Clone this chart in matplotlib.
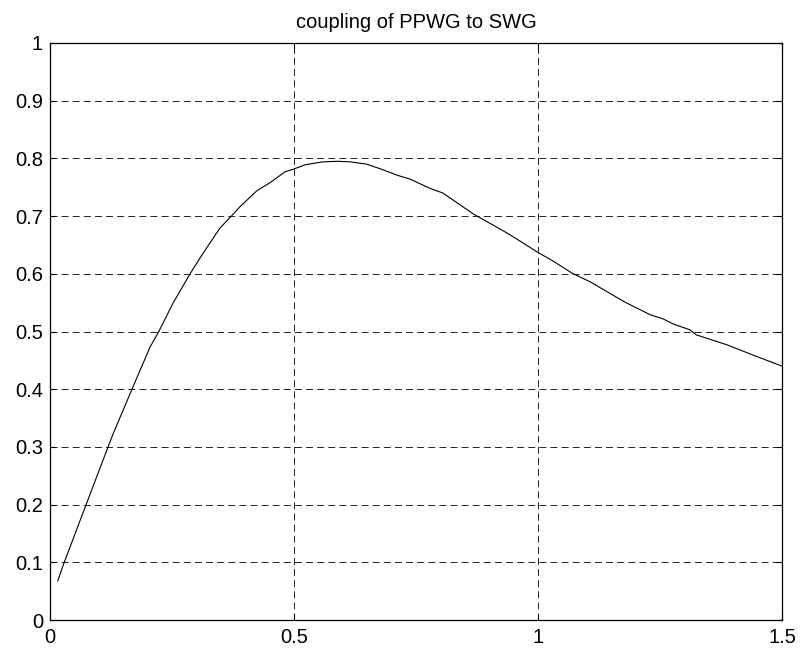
import matplotlib
matplotlib.use("Agg")
import matplotlib.pyplot as plt
import numpy as np

# coupling efficiency vs normalised frequency
freq = [0.016, 0.027, 0.074, 0.119, 0.130, 0.147, 0.168, 0.205, 0.223, 0.252,
        0.287, 0.314, 0.348, 0.375, 0.389, 0.424, 0.451, 0.482, 0.498, 0.523,
        0.559, 0.590, 0.615, 0.649, 0.680, 0.711, 0.738, 0.779, 0.805, 0.867,
        0.936, 0.957, 0.998, 1.031, 1.070, 1.107, 1.178, 1.230, 1.256, 1.277,
        1.311, 1.325, 1.387, 1.441, 1.500]
coupling = [0.068, 0.095, 0.200, 0.300, 0.324, 0.358, 0.400, 0.473, 0.500, 0.549,
            0.600, 0.636, 0.679, 0.703, 0.716, 0.744, 0.758, 0.777, 0.781, 0.789,
            0.794, 0.795, 0.794, 0.790, 0.781, 0.771, 0.764, 0.748, 0.740, 0.704,
            0.671, 0.660, 0.638, 0.622, 0.601, 0.586, 0.551, 0.529, 0.522, 0.513,
            0.503, 0.494, 0.477, 0.459, 0.440]

xticks = [0, 0.5, 1, 1.5]
xticklabels = ["0", "0.5", "1", "1.5"]
yticks = [0, 0.1, 0.2, 0.3, 0.4, 0.5, 0.6, 0.7, 0.8, 0.9, 1]
yticklabels = ["0", "0.1", "0.2", "0.3", "0.4", "0.5", "0.6", "0.7", "0.8", "0.9", "1"]

plt.rcParams['font.family'] = ['Liberation Sans', 'DejaVu Sans']
plt.rcParams['lines.scale_dashes'] = False

fig = plt.figure(figsize=(8.01, 6.52), dpi=100)
ax = fig.add_axes([50 / 801, 32 / 652, 732 / 801, 577 / 652])

ax.plot(freq, coupling, color='black', linewidth=0.8)

ax.set_xlim(0, 1.5)
ax.set_ylim(0, 1)
ax.set_xticks(xticks)
ax.set_xticklabels(xticklabels)
ax.set_yticks(yticks)
ax.set_yticklabels(yticklabels)

ax.tick_params(direction='in', length=4, width=0.8, top=True, right=True,
               labelsize=14.5, colors='black')
ax.tick_params(axis='x', pad=6)
ax.tick_params(axis='y', pad=5)
ax.grid(True, color='black', linestyle=(0, (5, 3)), linewidth=0.6)
for s in ax.spines.values():
    s.set_linewidth(0.9)

ax.set_title("coupling of PPWG to SWG", fontsize=14.5, pad=10.5)

fig.savefig("out.png", dpi=100)
